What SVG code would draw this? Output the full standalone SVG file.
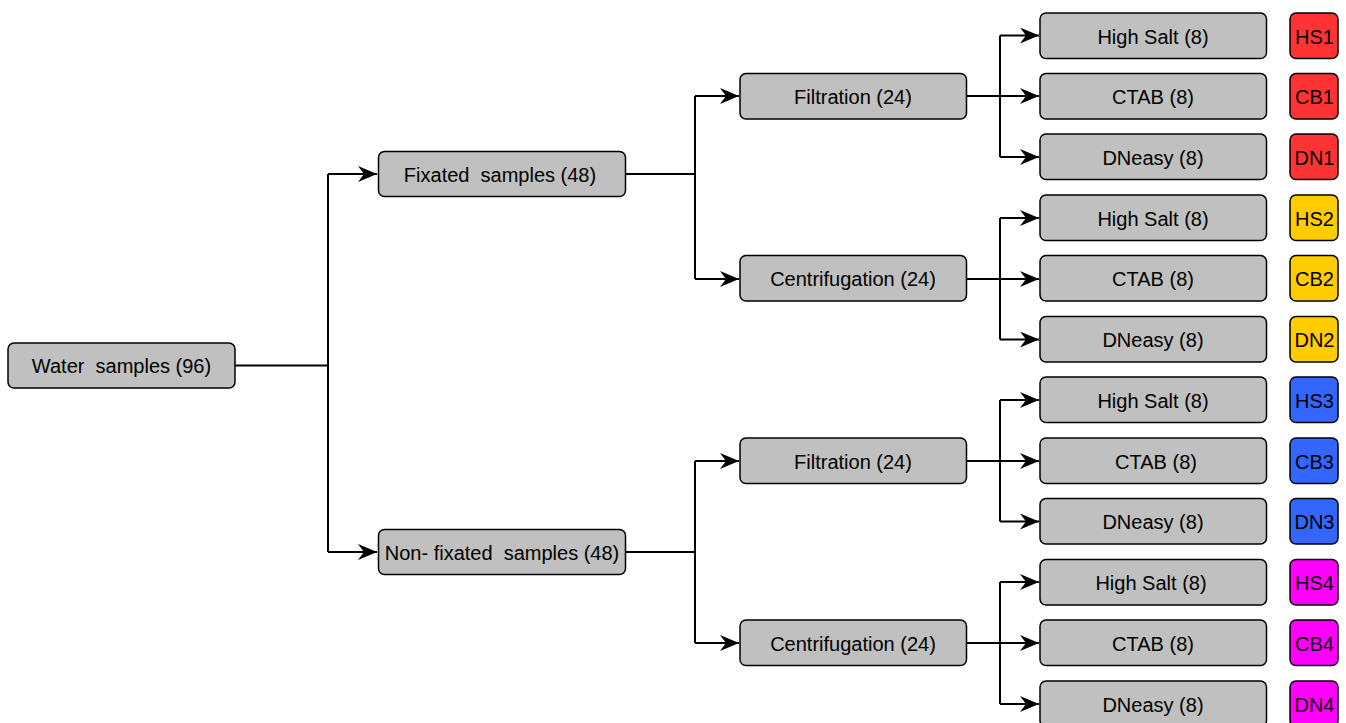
<svg xmlns="http://www.w3.org/2000/svg" width="1346" height="723" viewBox="0 0 1346 723">
<style>
.box{fill:#c0c0c0;stroke:#000;stroke-width:1.5}
.t{font-family:"Liberation Sans",Arial,sans-serif;font-size:20px;fill:#000;text-anchor:middle;dominant-baseline:central;white-space:pre}
.c{fill:none;stroke:#000;stroke-width:2}
.r{fill:#ff3333;stroke:#000;stroke-width:1.5}
.y{fill:#ffcc00;stroke:#000;stroke-width:1.5}
.b{fill:#3366ff;stroke:#000;stroke-width:1.5}
.m{fill:#ff00ff;stroke:#000;stroke-width:1.5}
</style>
<defs>
<marker id="a" markerUnits="userSpaceOnUse" markerWidth="20" markerHeight="16" refX="19" refY="8" orient="auto">
<path d="M0,0 L19,8 L0,16 L6,8 Z" fill="#000"/>
</marker>
</defs>
<g id="connectors">
<path class="c" d="M235,365.5 H328"/>
<path class="c" d="M328,174 V552"/>
<path class="c" d="M328,174 H377" marker-end="url(#a)"/>
<path class="c" d="M328,552 H377" marker-end="url(#a)"/>
<path class="c" d="M625,174 H695"/>
<path class="c" d="M695,96 V279"/>
<path class="c" d="M695,96 H739" marker-end="url(#a)"/>
<path class="c" d="M695,279 H739" marker-end="url(#a)"/>
<path class="c" d="M625,552 H695"/>
<path class="c" d="M695,461 V643"/>
<path class="c" d="M695,461 H739" marker-end="url(#a)"/>
<path class="c" d="M695,643 H739" marker-end="url(#a)"/>
<path class="c" d="M966,96 H1039" marker-end="url(#a)"/>
<path class="c" d="M1000,35.5 V157"/>
<path class="c" d="M1000,35.5 H1039" marker-end="url(#a)"/>
<path class="c" d="M1000,157 H1039" marker-end="url(#a)"/>
<path class="c" d="M966,279 H1039" marker-end="url(#a)"/>
<path class="c" d="M1000,218 V339.5"/>
<path class="c" d="M1000,218 H1039" marker-end="url(#a)"/>
<path class="c" d="M1000,339.5 H1039" marker-end="url(#a)"/>
<path class="c" d="M966,461 H1039" marker-end="url(#a)"/>
<path class="c" d="M1000,400 V521.5"/>
<path class="c" d="M1000,400 H1039" marker-end="url(#a)"/>
<path class="c" d="M1000,521.5 H1039" marker-end="url(#a)"/>
<path class="c" d="M966,643 H1039" marker-end="url(#a)"/>
<path class="c" d="M1000,582 V704"/>
<path class="c" d="M1000,582 H1039" marker-end="url(#a)"/>
<path class="c" d="M1000,704 H1039" marker-end="url(#a)"/>
</g>
<g id="water"><rect class="box" x="8" y="343" width="227" height="45" rx="6"/><text class="t" x="121.5" y="366">Water  samples (96)</text></g>
<g id="fixated"><rect class="box" x="378.5" y="151.5" width="247" height="45" rx="6"/><text class="t" x="500" y="175">Fixated  samples (48)</text></g>
<g id="nonfixated"><rect class="box" x="378.5" y="529.5" width="247" height="45" rx="6"/><text class="t" x="502" y="553">Non- fixated  samples (48)</text></g>
<g id="filt1"><rect class="box" x="740" y="73.5" width="226.5" height="45.5" rx="6"/><text class="t" x="853" y="97">Filtration (24)</text></g>
<g id="cent1"><rect class="box" x="740" y="255.5" width="226.5" height="45.5" rx="6"/><text class="t" x="853" y="279">Centrifugation (24)</text></g>
<g id="filt2"><rect class="box" x="740" y="438" width="226.5" height="45.5" rx="6"/><text class="t" x="853" y="462">Filtration (24)</text></g>
<g id="cent2"><rect class="box" x="740" y="620" width="226.5" height="45.5" rx="6"/><text class="t" x="853" y="644">Centrifugation (24)</text></g>
<g id="hs1"><rect class="box" x="1040" y="13" width="226.5" height="45.5" rx="6"/><text class="t" x="1153" y="37">High Salt (8)</text></g>
<g id="cb1"><rect class="box" x="1040" y="73.5" width="226.5" height="45.5" rx="6"/><text class="t" x="1153" y="97">CTAB (8)</text></g>
<g id="dn1"><rect class="box" x="1040" y="134" width="226.5" height="45.5" rx="6"/><text class="t" x="1153" y="158">DNeasy (8)</text></g>
<g id="hs2"><rect class="box" x="1040" y="195" width="226.5" height="45.5" rx="6"/><text class="t" x="1153" y="219">High Salt (8)</text></g>
<g id="cb2"><rect class="box" x="1040" y="255.5" width="226.5" height="45.5" rx="6"/><text class="t" x="1153" y="279">CTAB (8)</text></g>
<g id="dn2"><rect class="box" x="1040" y="316.5" width="226.5" height="45.5" rx="6"/><text class="t" x="1153" y="340">DNeasy (8)</text></g>
<g id="hs3"><rect class="box" x="1040" y="377" width="226.5" height="45.5" rx="6"/><text class="t" x="1153" y="401">High Salt (8)</text></g>
<g id="cb3"><rect class="box" x="1040" y="438" width="226.5" height="45.5" rx="6"/><text class="t" x="1156" y="462">CTAB (8)</text></g>
<g id="dn3"><rect class="box" x="1040" y="498.5" width="226.5" height="45.5" rx="6"/><text class="t" x="1153" y="522">DNeasy (8)</text></g>
<g id="hs4"><rect class="box" x="1040" y="559.5" width="226.5" height="45.5" rx="6"/><text class="t" x="1151" y="583">High Salt (8)</text></g>
<g id="cb4"><rect class="box" x="1040" y="620" width="226.5" height="45.5" rx="6"/><text class="t" x="1153" y="644">CTAB (8)</text></g>
<g id="dn4"><rect class="box" x="1040" y="681" width="226.5" height="45.5" rx="6"/><text class="t" x="1153" y="705">DNeasy (8)</text></g>
<g id="tHS1"><rect class="r" x="1290" y="13" width="48" height="45.5" rx="6"/><text class="t" x="1314.5" y="37">HS1</text></g>
<g id="tCB1"><rect class="r" x="1290" y="73.5" width="48" height="45.5" rx="6"/><text class="t" x="1314.5" y="97">CB1</text></g>
<g id="tDN1"><rect class="r" x="1290" y="134" width="48" height="45.5" rx="6"/><text class="t" x="1314.5" y="158">DN1</text></g>
<g id="tHS2"><rect class="y" x="1290" y="195" width="48" height="45.5" rx="6"/><text class="t" x="1314.5" y="219">HS2</text></g>
<g id="tCB2"><rect class="y" x="1290" y="255.5" width="48" height="45.5" rx="6"/><text class="t" x="1314.5" y="279">CB2</text></g>
<g id="tDN2"><rect class="y" x="1290" y="316.5" width="48" height="45.5" rx="6"/><text class="t" x="1314.5" y="340">DN2</text></g>
<g id="tHS3"><rect class="b" x="1290" y="377" width="48" height="45.5" rx="6"/><text class="t" x="1314.5" y="401">HS3</text></g>
<g id="tCB3"><rect class="b" x="1290" y="438" width="48" height="45.5" rx="6"/><text class="t" x="1314.5" y="462">CB3</text></g>
<g id="tDN3"><rect class="b" x="1290" y="498.5" width="48" height="45.5" rx="6"/><text class="t" x="1314.5" y="522">DN3</text></g>
<g id="tHS4"><rect class="m" x="1290" y="559.5" width="48" height="45.5" rx="6"/><text class="t" x="1314.5" y="583">HS4</text></g>
<g id="tCB4"><rect class="m" x="1290" y="620" width="48" height="45.5" rx="6"/><text class="t" x="1314.5" y="644">CB4</text></g>
<g id="tDN4"><rect class="m" x="1290" y="681" width="48" height="45.5" rx="6"/><text class="t" x="1314.5" y="705">DN4</text></g>
</svg>
